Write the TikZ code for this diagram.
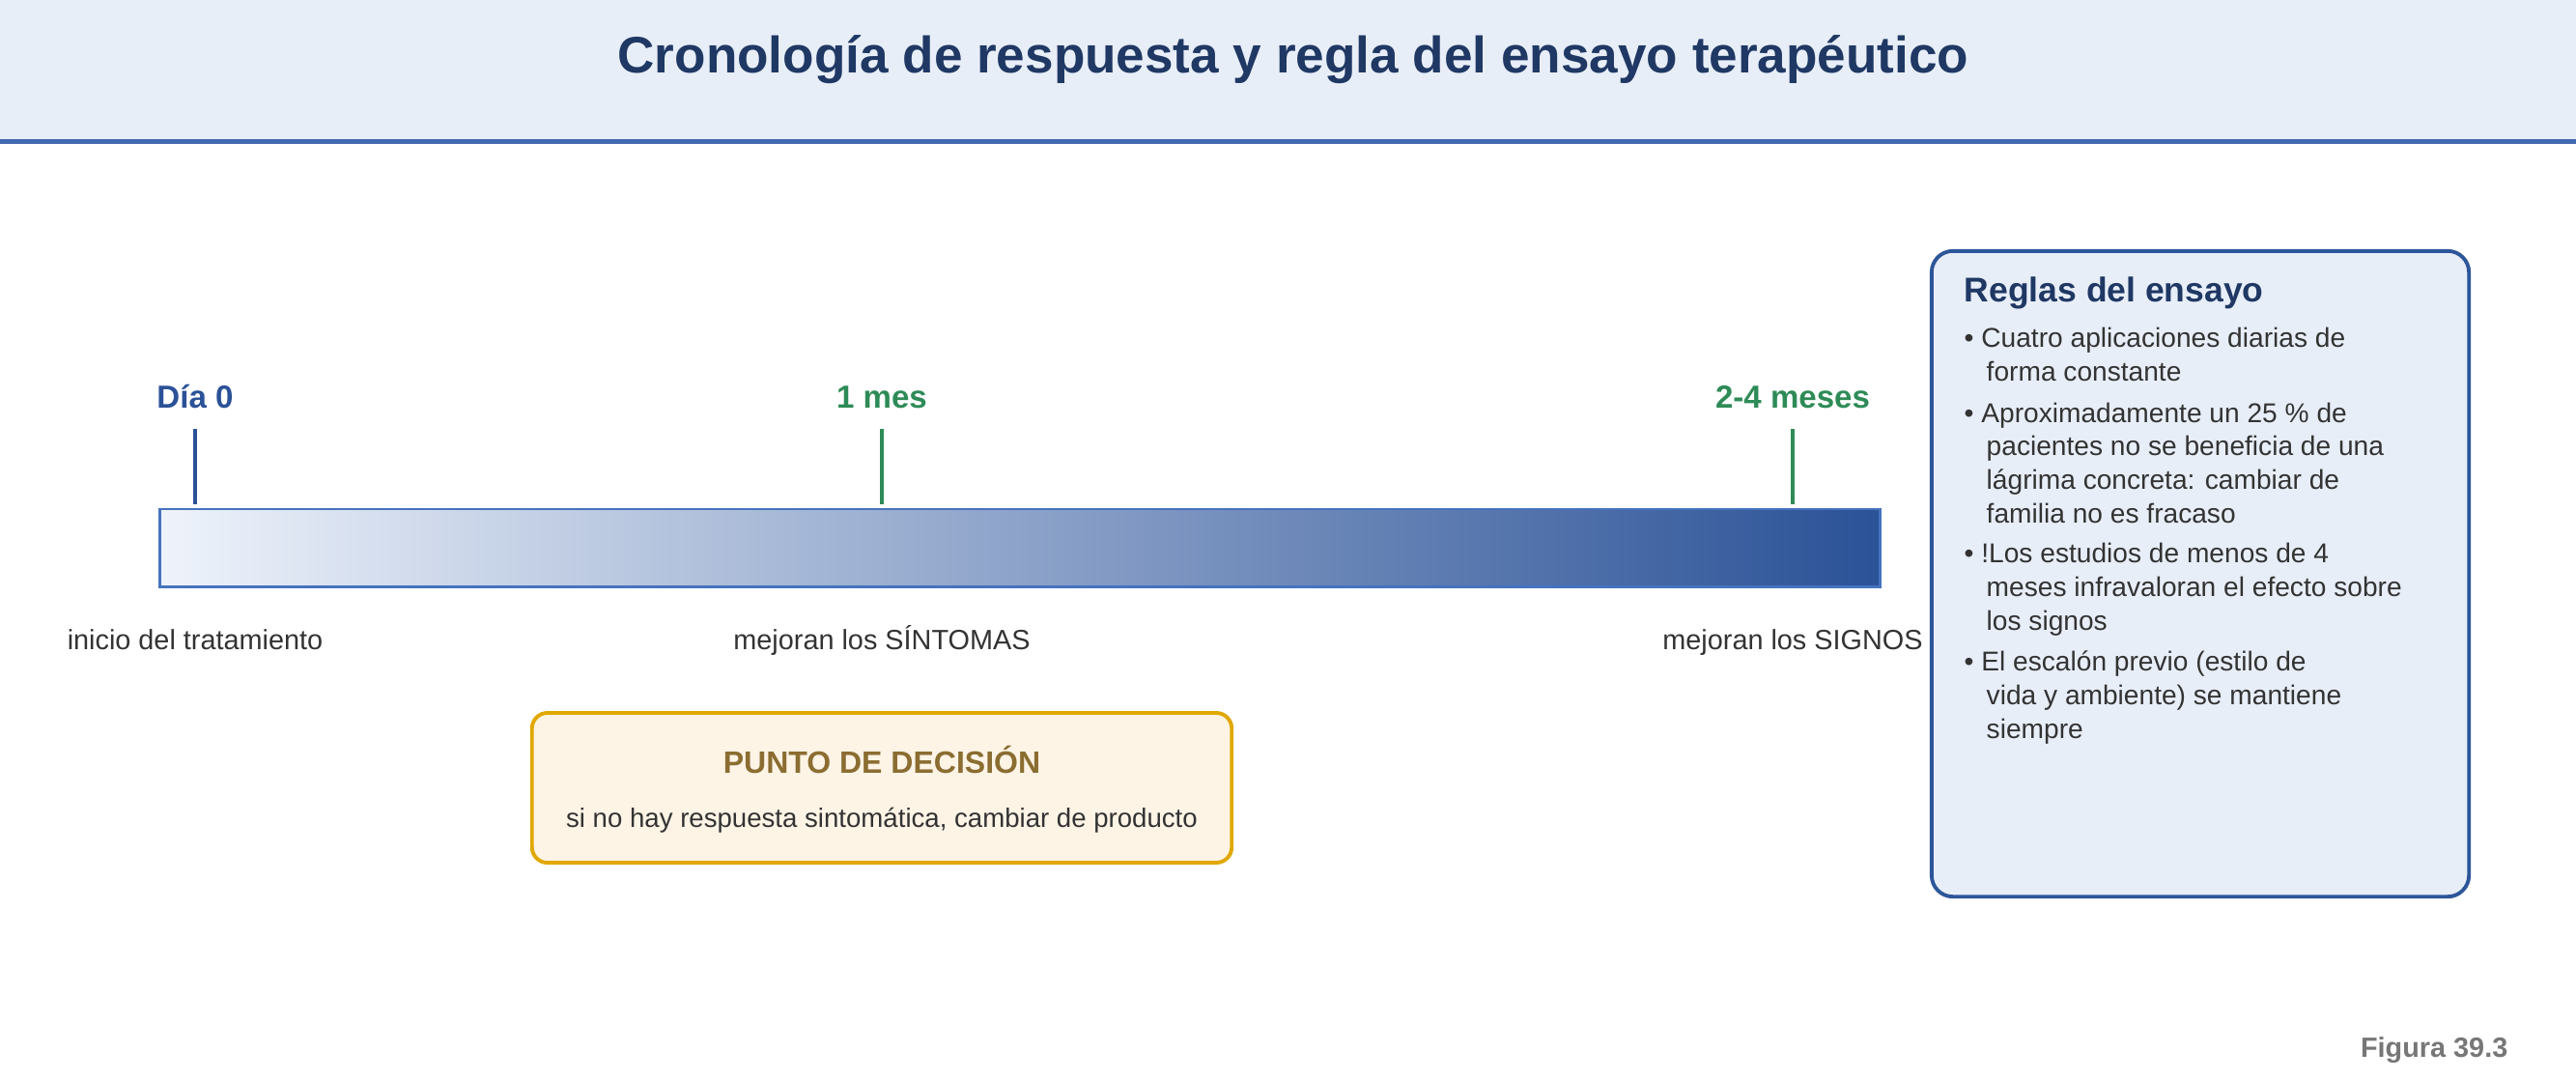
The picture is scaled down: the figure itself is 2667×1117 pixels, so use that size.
\documentclass[tikz,border=0pt]{standalone}
\usepackage{fontspec}
\setmainfont{Liberation Sans}
\definecolor{fondocab}{HTML}{E8EEF7}
\definecolor{lineacab}{HTML}{4169AF}
\definecolor{azultitulo}{HTML}{1F3864}
\definecolor{azuldia}{HTML}{2B5197}
\definecolor{verdemes}{HTML}{2E8B57}
\definecolor{barraizq}{HTML}{EEF3FB}
\definecolor{barrader}{HTML}{2B5297}
\definecolor{bordebarra}{HTML}{4673BE}
\definecolor{gristexto}{HTML}{333333}
\definecolor{fondodec}{HTML}{FDF4E6}
\definecolor{bordedec}{HTML}{E0A800}
\definecolor{titulodec}{HTML}{8B6D31}
\definecolor{fondoreglas}{HTML}{E8EEF8}
\definecolor{bordereglas}{HTML}{2D5699}
\definecolor{grisfigura}{HTML}{777777}
\begin{document}
\begin{tikzpicture}[x=0.01cm, y=-0.01cm,
    texto/.style={font=\fontsize{8}{9.85}\selectfont, text=gristexto, inner sep=0pt},
    etiqueta/.style={font=\fontsize{8.2}{10}\selectfont, text=gristexto, inner sep=0pt, anchor=base},
    hito/.style={font=\bfseries\fontsize{9.4}{11}\selectfont, inner sep=0pt, anchor=base},
    marca/.style={line width=1.4pt}]

    \useasboundingbox (0,0) rectangle (2667,1117);

    % cabecera
    \fill[fondocab] (0,0) rectangle (2667,144);
    \draw[lineacab, line width=1.4pt] (0,146.5) -- (2667,146.5);
    \node[anchor=base, inner sep=0pt, text=azultitulo, font=\bfseries\fontsize{15.1}{18}\selectfont] (titulo) at (1339,75) {Cronología de respuesta y regla del ensayo terapéutico};

    % barra de tiempo
    \node[draw=bordebarra, line width=0.85pt, left color=barraizq, right color=barrader, minimum width=17.8cm, minimum height=0.8cm, inner sep=0pt] (barra) at (1056,567) {};

    \foreach \xt/\col in {202/azuldia, 913/verdemes, 1856/verdemes} {
        \draw[marca, \col] (\xt,444) -- (\xt,522);
    } %end foreach

    \node[hito, text=azuldia] (dia) at (202,422) {Día 0};
    \node[hito, text=verdemes] (mes) at (913,422) {1 mes};
    \node[hito, text=verdemes] (meses) at (1856,422) {2-4 meses};

    \node[etiqueta] (inicio) at (202,672) {inicio del tratamiento};
    \node[etiqueta] (sintomas) at (913,672) {mejoran los SÍNTOMAS};
    \node[etiqueta] (signos) at (1856,672) {mejoran los SIGNOS};

    % punto de decision
    \node[draw=bordedec, fill=fondodec, line width=1.1pt, rounded corners=0.16cm, minimum width=7.24cm, minimum height=1.55cm] (decision) at (913,815.5) {};
    \node[anchor=base, inner sep=0pt, text=titulodec, font=\bfseries\fontsize{9.1}{11}\selectfont] (dectitulo) at (913,800) {PUNTO DE DECISIÓN};
    \node[inner sep=0pt, text=gristexto, font=\fontsize{7.85}{10}\selectfont, anchor=base] (dectexto) at (913,856) {si no hay respuesta sintomática, cambiar de producto};

    % reglas del ensayo
    \node[draw=bordereglas, fill=fondoreglas, line width=1.1pt, rounded corners=0.22cm, minimum width=5.56cm, minimum height=6.68cm] (reglas) at (2278,594) {};
    \node[anchor=base west, inner sep=0pt, text=azultitulo, font=\bfseries\fontsize{10.1}{12}\selectfont] (reglastitulo) at (2033,312) {Reglas del ensayo};
    \node[texto, anchor=base west, align=left] (r1) at (2033,394) {• Cuatro aplicaciones diarias de\\\hspace*{0.23cm}forma constante};
    \node[texto, anchor=base west, align=left] (r2) at (2033,541) {• Aproximadamente un 25 \% de\\\hspace*{0.23cm}pacientes no se beneficia de una\\\hspace*{0.23cm}lágrima concreta: cambiar de\\\hspace*{0.23cm}familia no es fracaso};
    \node[texto, anchor=base west, align=left] (r3) at (2033,652) {• !Los estudios de menos de 4\\\hspace*{0.23cm}meses infravaloran el efecto sobre\\\hspace*{0.23cm}los signos};
    \node[texto, anchor=base west, align=left] (r4) at (2033,764) {• El escalón previo (estilo de\\\hspace*{0.23cm}vida y ambiente) se mantiene\\\hspace*{0.23cm}siempre};

    \node[anchor=base east, inner sep=0pt, text=grisfigura, font=\bfseries\fontsize{8.2}{10}\selectfont] (figura) at (2597,1094) {Figura 39.3};

\end{tikzpicture}
\end{document}
